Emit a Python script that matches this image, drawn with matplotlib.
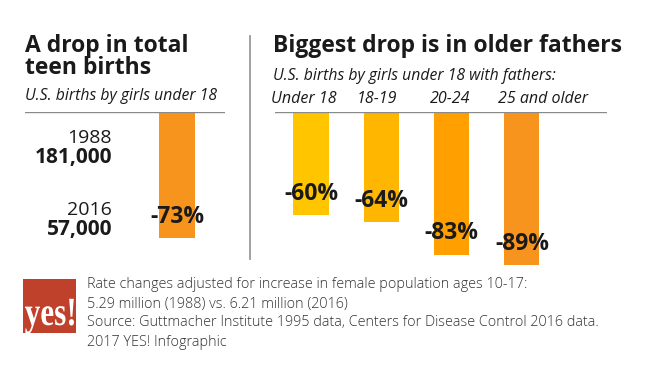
import matplotlib
matplotlib.use("Agg")
import matplotlib.pyplot as plt
from matplotlib.patches import Rectangle, PathPatch
from matplotlib.lines import Line2D
from matplotlib.textpath import TextPath
from matplotlib.font_manager import FontProperties
from matplotlib.transforms import Affine2D, IdentityTransform

# ---- data ----
total_change = [-73]
year_labels = ["1988", "2016"]
year_counts = ["181,000", "57,000"]

father_ages = ["Under 18", "18-19", "20-24", "25 and older"]
father_change = [-60, -64, -83, -89]

bar_colors = ["#FFC600", "#FFB600", "#FF9F00", "#F7941E"]
total_color = "#F7941E"

FONT = ["Open Sans", "DejaVu Sans"]
plt.rcParams["font.family"] = FONT

W, H = 650, 390
DPI = 100
fig = plt.figure(figsize=(W / DPI, H / DPI), dpi=DPI)
fig.patch.set_facecolor("white")

def fx(px):
    return px / W

def fy(py):
    return 1 - py / H

TXT = "#1a1a1a"
PX_PER_PCT = 1.72
BASE_Y = 112
AX_H = 100 * PX_PER_PCT
SPACING = 70.3

def make_axes(left_px, right_px, first_center_px):
    ax = fig.add_axes([fx(left_px), fy(BASE_Y + AX_H), (right_px - left_px) / W, AX_H / H])
    ax.set_ylim(-100, 0)
    ax.set_xlim(-(first_center_px - left_px) / SPACING, (right_px - first_center_px) / SPACING)
    ax.axis("off")
    ax.axhline(0, color="#8a8a8a", lw=1.0, zorder=3)
    return ax

# ---- left panel ----
axl = make_axes(25, 225, 177)
axl.bar(range(len(total_change)), total_change, width=0.5, color=total_color, zorder=2)
for i, v in enumerate(total_change):
    axl.text(i, v + 12, f"{v}%", ha="center", va="center", fontsize=16.5,
             fontweight="bold", color=TXT, zorder=4)

fig.text(fx(25), fy(52), "A drop in total", fontsize=16.5, fontweight="bold",
         color=TXT, ha="left", va="baseline")
fig.text(fx(25), fy(74), "teen births", fontsize=16.5, fontweight="bold",
         color=TXT, ha="left", va="baseline")
fig.text(fx(25), fy(100), "U.S. births by girls under 18", fontsize=11.3, style="italic",
         color=TXT, ha="left", va="baseline")

for (yl, yc), (py1, py2) in zip(zip(year_labels, year_counts), [(143, 163), (215, 235)]):
    fig.text(fx(112), fy(py1), yl, fontsize=14, color=TXT, ha="right", va="baseline")
    fig.text(fx(112), fy(py2), yc, fontsize=15, fontweight="bold", color=TXT,
             ha="right", va="baseline")

# divider
fig.add_artist(Line2D([fx(250), fx(250)], [fy(36), fy(259)], color="#9a9a9a", lw=1.3))

# ---- right panel ----
axr = make_axes(275, 607, 311)
axr.bar(range(len(father_change)), father_change, width=0.5, color=bar_colors, zorder=2)
for i, v in enumerate(father_change):
    axr.text(i, v + 12.5, f"{v}%", ha="center", va="center", fontsize=16.5,
             fontweight="bold", color=TXT, zorder=4)

fig.text(fx(273), fy(52), "Biggest drop is in older fathers", fontsize=16.5,
         fontweight="bold", color=TXT, ha="left", va="baseline")
fig.text(fx(273), fy(80), "U.S. births by girls under 18 with fathers:", fontsize=11.3,
         style="italic", color=TXT, ha="left", va="baseline")

label_px = [304, 377, 450, 543]
for lab, px in zip(father_ages, label_px):
    fig.text(fx(px), fy(103), lab, fontsize=11.5, style="italic", color=TXT,
             ha="center", va="baseline")

# ---- footer / logo ----
LX0, LX1, LY0, LY1 = 23, 76, 279, 333
fig.add_artist(Rectangle((fx(LX0), fy(LY1)), (LX1 - LX0) / W, (LY1 - LY0) / H,
                         transform=fig.transFigure, facecolor="#C0412B", edgecolor="none"))
tp = TextPath((0, 0), "yes!", size=40,
              prop=FontProperties(family=["Liberation Serif", "DejaVu Serif"], weight="bold"))
ext = tp.get_extents()
sx = (74 - 25) / ext.width
sy = 1.0
base_from_bottom = H - 325
trans = Affine2D().translate(-ext.x0, 0).scale(sx, sy).translate(25, base_from_bottom)
logo = PathPatch(tp, transform=trans + IdentityTransform(), facecolor="white",
                 edgecolor="none")
clip = Rectangle((fx(LX0), fy(LY1)), (LX1 - LX0) / W, (LY1 - LY0) / H,
                 transform=fig.transFigure, facecolor="none", edgecolor="none")
fig.add_artist(clip)
logo.set_clip_path(clip)
fig.add_artist(logo)

foot = [
    "Rate changes adjusted for increase in female population ages 10-17:",
    "5.29 million (1988) vs. 6.21 million (2016)",
    "Source: Guttmacher Institute 1995 data, Centers for Disease Control 2016 data.",
    "2017 YES! Infographic",
]
for line, py in zip(foot, [285, 304, 323, 343]):
    fig.text(fx(87), fy(py), line, fontsize=10.4, fontweight="light", color="#333333",
             ha="left", va="center")

fig.savefig("out.png", dpi=DPI, facecolor="white")
